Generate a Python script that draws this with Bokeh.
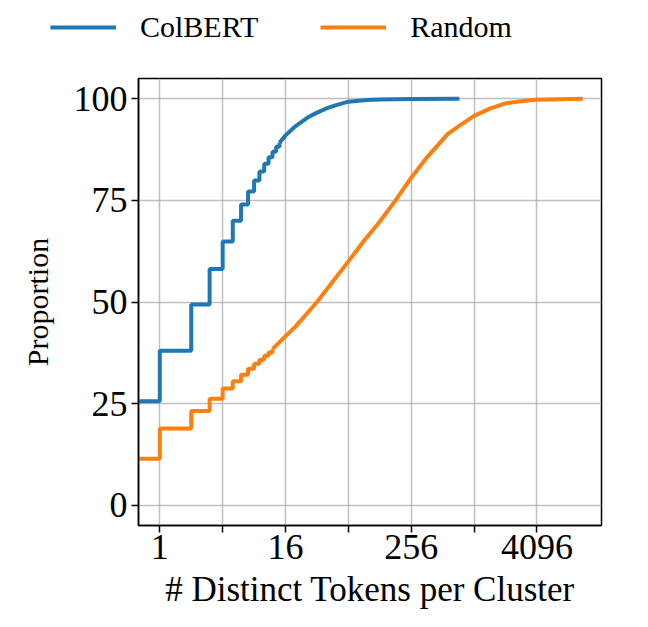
from bokeh.plotting import figure
from bokeh.layouts import column
from bokeh.models import FixedTicker, CustomJSTickFormatter, Legend, LegendItem, Range1d
from bokeh.embed import file_html
from bokeh.resources import INLINE

# ---- data ----
# x = number of distinct tokens per cluster, y = cumulative proportion (%)
colbert_step_x = [0.5, 1, 2, 3, 4, 5, 6, 7, 8, 9, 10, 11, 12, 13, 14]
colbert_step_y = [25.6, 38.0, 49.4, 58.1, 64.9, 70.0, 74.0, 77.2, 79.9, 82.1, 84.0, 85.6, 87.0, 88.2, 89.2]
colbert_tail_x = [14, 16, 20, 26, 32, 40, 48, 64, 96, 128, 256, 740]
colbert_tail_y = [89.2, 91.0, 93.3, 95.4, 96.6, 97.7, 98.4, 99.3, 99.7, 99.85, 99.97, 100.0]

random_step_x = [0.5, 1, 2, 3, 4, 5, 6, 7, 8, 9, 10, 11, 12]
random_step_y = [11.4, 18.9, 23.2, 26.2, 28.7, 30.5, 32.1, 33.6, 34.8, 35.8, 36.8, 37.6, 38.4]
random_tail_x = [12, 16, 20, 32, 64, 90, 128, 181, 256, 362, 571, 724, 1024, 1448, 2048, 2880, 4096, 11250]
random_tail_y = [38.4, 41.6, 44.0, 50.0, 60.0, 65.0, 69.8, 75.0, 80.6, 85.6, 91.3, 93.2, 95.8, 97.6, 98.9, 99.4, 99.8, 100.0]

x_ticks = [1, 4, 16, 64, 256, 1024, 4096]
x_tick_labels = {1: "1", 16: "16", 256: "256", 4096: "4096"}
y_ticks = [0, 25, 50, 75, 100]

series_names = ["ColBERT", "Random"]
series_colors = ["#1f77b4", "#ff7f0e"]

FONT = "Liberation Serif"
W = 632
LEG_H = 56

# ---------------- main plot ----------------
p = figure(
    width=W, height=611 - LEG_H,
    x_axis_type="log",
    x_range=Range1d(0.625, 17000),
    y_range=Range1d(-5, 105),
    output_backend="svg", toolbar_location=None,
    min_border_left=138, min_border_right=31,
    min_border_top=22, min_border_bottom=86,
)
p.frame_align = False

p.step(colbert_step_x, colbert_step_y, mode="after", line_width=4, line_color=series_colors[0])
p.line(colbert_tail_x, colbert_tail_y, line_width=4, line_color=series_colors[0])
p.step(random_step_x, random_step_y, mode="after", line_width=4, line_color=series_colors[1])
p.line(random_tail_x, random_tail_y, line_width=4, line_color=series_colors[1])

p.xaxis.ticker = FixedTicker(ticks=x_ticks, minor_ticks=[])
p.xaxis.formatter = CustomJSTickFormatter(
    args=dict(labels={str(k): v for k, v in x_tick_labels.items()}),
    code="const k = String(Math.round(tick)); return (k in labels) ? labels[k] : '';",
)
p.yaxis.ticker = FixedTicker(ticks=y_ticks, minor_ticks=[])
p.xgrid.ticker = FixedTicker(ticks=x_ticks)
p.ygrid.ticker = FixedTicker(ticks=y_ticks)

p.xaxis.axis_label = "# Distinct Tokens per Cluster"
p.yaxis.axis_label = "Proportion"

for ax in (p.xaxis[0], p.yaxis[0]):
    ax.axis_label_text_font = FONT
    ax.axis_label_text_font_style = "normal"
    ax.axis_label_text_color = "black"
    ax.major_label_text_font = FONT
    ax.major_label_text_color = "black"
    ax.axis_line_color = "black"
    ax.axis_line_width = 1.5
    ax.major_tick_line_color = "black"
    ax.major_tick_line_width = 1.5
    ax.major_tick_out = 7
    ax.major_tick_in = 0
    ax.minor_tick_line_color = None

p.xaxis.major_label_text_font_size = "36px"
p.yaxis.major_label_text_font_size = "36px"
p.xaxis.axis_label_text_font_size = "35px"
p.yaxis.axis_label_text_font_size = "30px"
p.xaxis.major_label_standoff = 2
p.xaxis.axis_label_standoff = 8
p.yaxis.major_label_standoff = 4
p.yaxis.axis_label_standoff = 17

p.grid.grid_line_color = "#b0b0b0"
p.grid.grid_line_width = 1.5
p.grid.grid_line_alpha = 0.8

p.outline_line_color = "black"
p.outline_line_width = 1.5
p.outline_line_alpha = 1.0
p.background_fill_color = "white"
p.border_fill_color = "white"

# ---------------- legend strip ----------------
lg = figure(
    width=W, height=LEG_H,
    x_range=Range1d(0, 1), y_range=Range1d(0, 1),
    output_backend="svg", toolbar_location=None,
    x_axis_location=None, y_axis_location=None,
    min_border_left=0, min_border_right=0, min_border_top=0, min_border_bottom=0,
)
lg.frame_align = False
lg.grid.visible = False
lg.outline_line_color = None
# legend key renderers (their data lies outside this strip's ranges, so only the keys show)
k1 = lg.line(colbert_tail_x, colbert_tail_y, line_width=4, line_color=series_colors[0])
k2 = lg.line(random_tail_x, random_tail_y, line_width=4, line_color=series_colors[1])

legend = Legend(
    items=[LegendItem(label=series_names[0], renderers=[k1]),
           LegendItem(label=series_names[1], renderers=[k2])],
    orientation="horizontal",
    location=(50, 12),
    glyph_width=66, glyph_height=30,
    label_standoff=24, spacing=62,
    padding=0, margin=0,
    border_line_alpha=0, background_fill_alpha=0,
    label_text_font=FONT, label_text_font_size="30px",
    label_text_color="black",
)
lg.add_layout(legend, "center")

layout = column(lg, p, spacing=0)
open("out.html", "w").write(file_html(layout, INLINE))
